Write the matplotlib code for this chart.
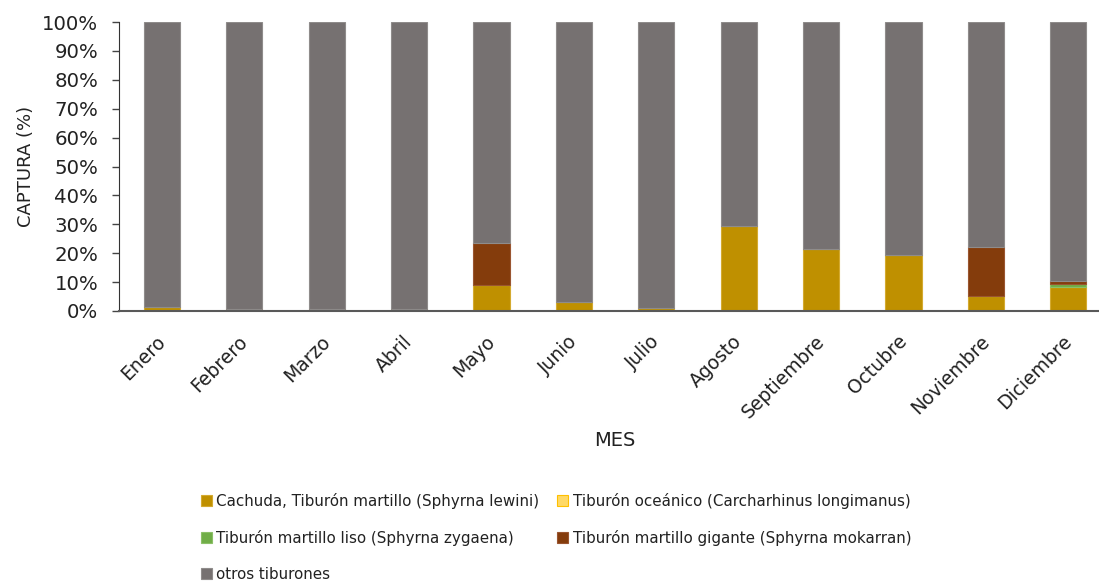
import matplotlib
matplotlib.use("Agg")
import matplotlib.pyplot as plt
import matplotlib.transforms as mtransforms
import numpy as np

meses = ["Enero", "Febrero", "Marzo", "Abril", "Mayo", "Junio", "Julio",
         "Agosto", "Septiembre", "Octubre", "Noviembre", "Diciembre"]

# Porcentaje de captura por especie y mes
lewini = [1.4, 0.6, 0.6, 0.6, 9.0, 3.2, 1.0, 29.4, 21.5, 19.4, 5.3, 8.2]
oceanico = [0, 0, 0, 0, 0, 0, 0, 0, 0, 0, 0, 0]
zygaena = [0, 0, 0, 0, 0, 0, 0, 0, 0, 0, 0, 1.2]
mokarran = [0, 0, 0, 0, 14.6, 0, 0, 0, 0, 0, 17.0, 0.9]
otros = [100 - (a + b + c + d) for a, b, c, d in zip(lewini, oceanico, zygaena, mokarran)]

series = [
    ("Cachuda, Tiburón martillo (Sphyrna lewini)", lewini, "#BF9000", "#D4AA30"),
    ("Tiburón oceánico (Carcharhinus longimanus)", oceanico, "#FFD966", "#FFC000"),
    ("Tiburón martillo liso (Sphyrna zygaena)", zygaena, "#70AD47", "#8CC068"),
    ("Tiburón martillo gigante (Sphyrna mokarran)", mokarran, "#843C0C", "#9A5530"),
    ("otros tiburones", otros, "#767171", "#8F8C8B"),
]

plt.rcParams["font.family"] = ["DejaVu Sans"]

fig = plt.figure(figsize=(10.99, 5.82), dpi=100)
ax = fig.add_axes([119 / 1099, 1 - 311 / 582, (1099 - 119) / 1099, (311 - 22) / 582])

x = np.arange(len(meses))
bottom = np.zeros(len(meses))
handles = {}
for name, vals, color, edge in series:
    v = np.array(vals, dtype=float) / 100.0
    b = ax.bar(x, v, width=0.44, bottom=bottom, color=color, edgecolor=edge,
               linewidth=0.8, label=name, zorder=2)
    handles[name] = b
    bottom += v

ax.set_ylim(0, 1.0)
ax.set_xlim(-0.52, -0.52 + 980 / 82.4)
ticks = np.arange(0, 1.01, 0.1)
ax.set_yticks(ticks)
ax.set_yticklabels([f"{int(round(t * 100))}%" for t in ticks],
                   fontsize=14.2, color="#222222")
ax.set_xticks(x)
ax.set_xticklabels(meses, rotation=45, ha="right", rotation_mode="anchor",
                   fontsize=13.5, color="#222222")
ax.tick_params(axis="x", length=0, pad=15)
ax.tick_params(axis="y", length=5, width=1, color="#444444", pad=10)

# nudge the rotated month labels a little to the left
shift = mtransforms.ScaledTranslation(-6 / 100, 0, fig.dpi_scale_trans)
for lbl in ax.get_xticklabels():
    lbl.set_transform(lbl.get_transform() + shift)

for s in ["top", "right"]:
    ax.spines[s].set_visible(False)
ax.spines["left"].set_color("#333333")
ax.spines["bottom"].set_color("#595959")
ax.spines["bottom"].set_linewidth(1.5)
ax.spines["bottom"].set_zorder(3)

ax.set_ylabel("CAPTURA (%)", fontsize=13, color="#222222", labelpad=5)
fig.text(615 / 1099, 1 - 440 / 582, "MES", fontsize=14, ha="center", va="center",
         color="#222222")

order = [0, 2, 4, 1, 3]
leg = fig.legend([handles[series[i][0]] for i in order],
                 [series[i][0] for i in order],
                 ncol=2, frameon=False, fontsize=10.9,
                 loc="upper left", bbox_to_anchor=(195 / 1099, 1 - 487 / 582),
                 handlelength=0.7, handleheight=0.7, handletextpad=0.3,
                 labelspacing=1.38, columnspacing=1.2, borderaxespad=0,
                 labelcolor="#222222")

fig.savefig("out.png", dpi=100)
